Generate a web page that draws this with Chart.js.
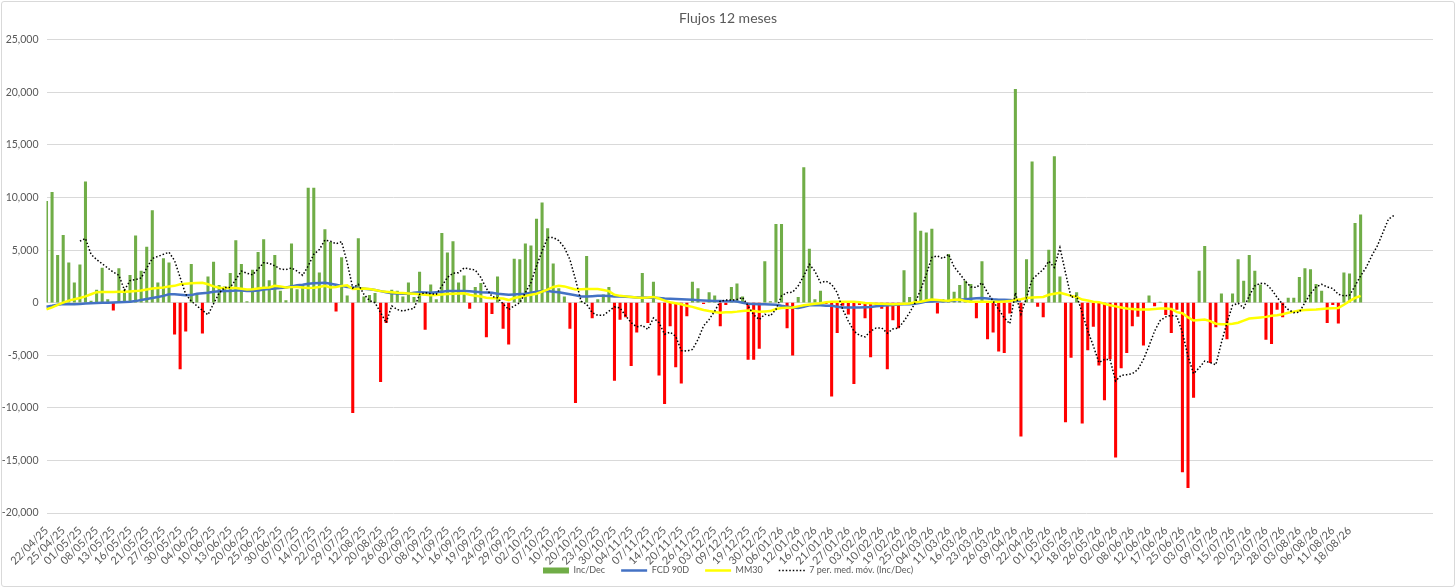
<!DOCTYPE html>
<html>
<head>
<meta charset="utf-8">
<script src="https://cdn.jsdelivr.net/npm/chart.js@4.4.1/dist/chart.umd.min.js"></script>
<style>
  body { margin: 0; background: #fff; }
  #wrap { position: relative; width: 1456px; height: 588px; }
  #myChart { display: block; }
  #frame { position: absolute; left: 1px; top: 1px; width: 1452px; height: 584px; border: 1px solid #d9d9d9; border-radius: 3px; pointer-events: none; }
</style>
</head>
<body>
<div id="wrap">
  <canvas id="myChart" width="1456" height="588"></canvas>
  <div id="frame"></div>
</div>
<script>
// tick labels shown on the x axis (one every 3 days)
var tickLabels = ['22/04/25','25/04/25','01/05/25','08/05/25','13/05/25','16/05/25','21/05/25','27/05/25','30/05/25','04/06/25',
  '10/06/25','13/06/25','20/06/25','25/06/25','30/06/25','07/07/25','14/07/25','22/07/25','29/07/25','12/08/25',
  '20/08/25','26/08/25','02/09/25','08/09/25','11/09/25','16/09/25','19/09/25','24/09/25','29/09/25','02/10/25',
  '07/10/25','10/10/25','20/10/25','23/10/25','30/10/25','04/11/25','07/11/25','14/11/25','20/11/25','26/11/25',
  '03/12/25','09/12/25','19/12/25','30/12/25','06/01/26','12/01/26','16/01/26','21/01/26','27/01/26','03/02/26',
  '10/02/26','19/02/26','25/02/26','04/03/26','11/03/26','16/03/26','23/03/26','26/03/26','09/04/26','22/04/26',
  '01/05/26','12/05/26','18/05/26','26/05/26','02/06/26','08/06/26','12/06/26','17/06/26','25/06/26','03/07/26',
  '09/07/26','15/07/26','20/07/26','23/07/26','28/07/26','03/08/26','06/08/26','11/08/26','18/08/26'];
var labelEvery = 3;
var categoryCount = 250;

var incDec = [9650,10500,4500,6400,3800,1900,3600,11500,150,1200,
  3300,300,-700,3250,1200,2600,6350,3000,5300,8750,
  1900,4200,3800,-3000,-6300,-2700,3650,800,-2900,2450,
  3850,1650,1500,2800,5900,3650,100,3100,4800,6000,
  2100,4500,1100,200,5600,1250,1750,10900,10900,2850,
  6950,5750,-800,4300,650,-10450,6100,550,700,900,
  -7500,-1900,1200,1100,550,1900,500,2900,-2550,1700,
  300,6600,4750,5800,1900,2550,-550,1450,1850,-3250,
  -1050,2450,-2450,-3950,4150,4100,5600,5400,7950,9500,
  7050,3700,1350,550,-2450,-9500,100,4400,-1450,300,
  750,1450,-7400,-1600,-1350,-6000,-2800,2800,-1900,1950,
  -6900,-9600,-2200,-6100,-7650,-1250,1950,1350,-100,950,
  650,-2200,-200,1450,1800,550,-5400,-5400,-4350,3900,
  100,7450,7450,-2400,-5000,500,12850,5100,300,1100,
  -100,-8900,-2850,-250,-1100,-7700,-200,-1450,-5150,-200,
  -550,-6300,-1650,-2400,3050,500,8550,6800,6650,7000,
  -1000,300,4600,1000,1650,2050,1750,-1450,3900,-3450,
  -2800,-4600,-4750,-1000,20300,-12700,4100,13400,-350,-1350,
  5000,13900,2450,-11350,-5200,950,-11450,-4500,-2250,-5950,
  -9250,-5350,-14700,-6200,-4750,-2200,-1300,-4050,650,-300,
  50,-1150,-2850,-650,-16100,-17600,-9000,3000,5350,-5700,
  -2300,850,-3450,850,4100,2050,4500,3000,1700,-3500,
  -3900,-650,-1350,450,450,2400,3250,3150,1750,1100,
  -1900,-200,-1950,2850,2750,7550,8350];

var fcd90 = [-380,-300,-200,-130,-150,-150,-120,-80,-60,-40,
  -10,0,20,50,70,100,150,250,350,450,
  550,650,800,800,750,700,720,850,900,950,
  1050,1080,1100,1120,1150,1150,1120,1100,1150,1250,
  1300,1350,1400,1450,1550,1650,1700,1800,1850,1880,
  1900,1800,1700,1600,1500,1450,1400,1330,1270,1200,
  1100,1000,900,880,860,850,950,1000,980,950,
  1000,1050,1100,1100,1100,1100,1080,1050,1000,980,
  950,850,800,750,780,820,850,950,1050,1100,
  1100,1050,1000,900,800,700,600,600,620,650,
  650,630,600,600,560,530,500,490,480,480,
  450,400,380,350,320,300,270,230,200,180,
  160,150,140,130,110,0,-100,-120,-150,-150,
  -180,-200,-300,-380,-450,-500,-400,-250,-250,-250,
  -280,-300,-380,-450,-450,-450,-450,-430,-400,-350,
  -300,-250,-220,-180,-150,-150,-100,0,100,120,
  130,140,150,200,280,320,380,420,450,400,
  320,290,270,250,200,150];

var mm30 = [-640,-450,-200,0,200,330,450,600,800,1000,
  1020,1020,1020,1030,1050,1070,1100,1150,1250,1350,
  1400,1450,1550,1600,1750,1800,1850,1880,1900,1750,
  1550,1420,1400,1400,1400,1320,1250,1280,1350,1420,
  1450,1600,1550,1450,1480,1500,1450,1400,1420,1500,
  1600,1450,1500,1600,1650,1300,1320,1350,1300,1200,
  1100,1050,1000,950,920,880,850,800,750,700,
  730,780,820,850,880,900,750,650,580,480,
  420,430,400,250,450,550,650,750,850,1050,
  1250,1500,1600,1550,1400,1250,1270,1300,1300,1300,
  1200,1100,750,650,600,550,500,480,500,550,
  400,200,50,-50,-150,-300,-400,-550,-700,-800,
  -880,-950,-920,-900,-850,-780,-750,-800,-850,-830,
  -800,-600,-500,-470,-450,-350,-250,-180,-100,-50,
  50,100,100,80,90,100,50,-30,-60,-100,
  -110,-130,-150,-130,-110,-80,50,100,200,300,
  250,200,180,280,300,150,100,100,100,100,
  100,100,120,150,250,330,450,500,520,550,
  750,850,950,800,650,550,300,200,100,50,
  -100,-250,-350,-450,-550,-600,-650,-650,-650,-600,
  -550,-550,-600,-900,-1000,-1400,-1700,-1650,-1600,-1750,
  -2000,-2050,-2050,-2000,-1900,-1700,-1500,-1450,-1400,-1350,
  -1250,-1200,-1100,-950,-850,-750,-700,-680,-650,-600,
  -550,-520,-500,-200,150,450,650];

// 7 per. med. móv. trendline as drawn (starts at the 7th day)
var movAvg7 = [null,null,null,null,null,null,5850,6100,4600,4100,
  3700,3300,2900,2600,1200,2100,2200,2350,3300,4200,
  4400,4600,4800,4000,2400,800,150,-300,-730,-1150,
  -100,900,1450,1450,2200,3000,2800,2650,3200,3800,
  3750,3500,3200,3150,3300,3000,2600,3500,4600,5050,
  5950,5850,5600,5800,3800,1400,1750,800,200,0,
  -950,-1900,-300,-650,-800,-650,-550,800,950,850,
  800,1600,2400,2800,2850,3300,3200,3100,2400,1350,
  600,450,-100,-650,-300,0,950,1900,3500,4900,
  6200,6200,5900,5250,4100,2200,150,-150,-950,-1200,
  -1200,-800,-400,-500,-1250,-1900,-2300,-2150,-2550,-1450,
  -1900,-3000,-2800,-3200,-4550,-4600,-4450,-3500,-2200,-1600,
  -800,150,250,250,300,500,-300,-1150,-1600,-1100,
  -1250,-650,650,950,1000,1600,2550,3650,3000,1900,
  2050,1750,950,-650,-1750,-2700,-3100,-3250,-2700,-2400,
  -2400,-2900,-2500,-2400,-1750,-950,0,1250,2700,4300,
  4450,4200,4600,3400,2750,2050,1500,1450,1900,950,
  150,-650,-1450,-2000,950,-1100,500,2200,2700,3150,
  3950,3350,5250,2850,500,650,-950,-2700,-4100,-5700,
  -5400,-5400,-7450,-6900,-6850,-6750,-6350,-5400,-4100,-2700,
  -1700,-1350,-1200,-1300,-2850,-5100,-6750,-6200,-5550,-5700,
  -5900,-3800,-1900,-250,-50,-500,650,1600,1850,1800,
  1250,500,-150,-650,-950,-900,0,850,1500,1750,
  1500,1350,800,650,700,1600,2550,3350,4450,5400,
  6650,7950,8300];

var yMin = -20000;
var yMax = 25000;
var yStep = 5000;

var textGrey = '#595959';
var fontFamily = 'Lato, "Open Sans", sans-serif';

var categories = [];
for (var i = 0; i < categoryCount; i++) {
    categories.push(i % labelEvery === 0 && tickLabels[i / labelEvery] ? tickLabels[i / labelEvery] : '');
}

var ctx = document.getElementById('myChart').getContext('2d');

var chart = new Chart(ctx, {
    data: {
        labels: categories,
        datasets: [{
            type: 'bar',
            label: 'Inc/Dec',
            data: incDec,
            backgroundColor: (c) => (c.raw < 0 ? '#FF0000' : '#70AD47'),
            legendColor: '#70AD47',
            barThickness: 2.4,
            order: 4,
        }, {
            type: 'line',
            label: 'FCD 90D',
            data: fcd90,
            borderColor: '#4472C4',
            borderWidth: 2.5,
            pointRadius: 0,
            order: 3,
        }, {
            type: 'line',
            label: 'MM30',
            data: mm30,
            borderColor: '#FFFF00',
            borderWidth: 2.5,
            pointRadius: 0,
            order: 2,
        }, {
            type: 'line',
            label: '7 per. med. móv. (Inc/Dec)',
            data: movAvg7,
            borderColor: '#000000',
            borderWidth: 1.5,
            borderDash: [1.5, 2],
            pointRadius: 0,
            order: 1,
        }],
    },
    options: {
        responsive: false,
        animation: false,
        layout: {
            padding: { left: 0, right: 0, top: 0, bottom: 3 },
        },
        plugins: {
            title: {
                display: true,
                text: 'Flujos 12 meses',
                color: textGrey,
                font: { family: fontFamily, size: 14, weight: 'normal' },
                padding: { top: 10, bottom: 13 },
            },
            legend: {
                position: 'bottom',
                labels: {
                    usePointStyle: true,
                    pointStyleWidth: 26,
                    boxHeight: 6,
                    padding: 16,
                    color: textGrey,
                    font: { family: fontFamily, size: 9 },
                    generateLabels: (ch) => ch.data.datasets.map((ds, i) => ({
                        text: ds.label,
                        datasetIndex: i,
                        hidden: false,
                        fontColor: textGrey,
                        fillStyle: ds.type === 'bar' ? ds.legendColor : ds.borderColor,
                        strokeStyle: ds.type === 'bar' ? ds.legendColor : ds.borderColor,
                        lineWidth: ds.type === 'bar' ? 0 : ds.borderWidth,
                        lineDash: ds.borderDash || [],
                        pointStyle: ds.type === 'bar' ? 'rect' : 'line',
                    })),
                },
            },
            tooltip: { enabled: false },
        },
        scales: {
            x: {
                offset: false,
                grid: { display: false, drawTicks: false },
                border: { display: false },
                ticks: {
                    autoSkip: false,
                    maxRotation: 45,
                    minRotation: 45,
                    padding: 11,
                    color: textGrey,
                    font: { family: fontFamily, size: 11 },
                },
                afterFit: (scale) => {
                    scale.height = 37;
                    // let the rotated dates run down past the axis box, as in the original
                    scale._computeLabelArea = () => undefined;
                },
            },
            y: {
                min: yMin,
                max: yMax,
                grid: { color: '#D9D9D9', drawTicks: false },
                border: { display: false },
                ticks: {
                    stepSize: yStep,
                    padding: 8,
                    color: textGrey,
                    font: { family: fontFamily, size: 10.5 },
                    callback: (v) => v.toLocaleString('en-US'),
                },
                afterFit: (scale) => { scale.width = 46.5; },
            },
            // empty right-hand margin so title and legend stay centred on the page
            yRight: {
                type: 'linear',
                position: 'right',
                grid: { display: false, drawTicks: false },
                border: { display: false },
                ticks: { display: false },
                afterFit: (scale) => { scale.width = 23; },
            },
        },
    },
});
</script>
</body>
</html>
